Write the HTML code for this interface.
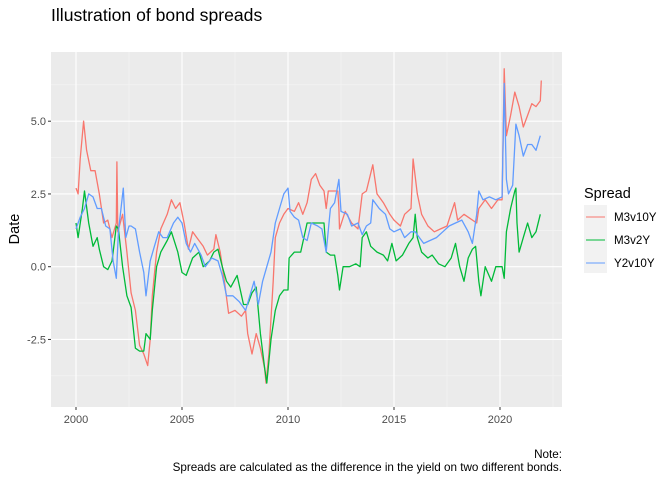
<!DOCTYPE html>
<html><head><meta charset="utf-8"><style>
body{margin:0;background:#fff;}
svg{display:block;font-family:"Liberation Sans",Arial,sans-serif;}
</style></head><body>
<svg width="672" height="480">
<text x="51" y="21" font-size="17.6" fill="#000">Illustration of bond spreads</text>
<rect x="51" y="52" width="511" height="355" fill="#ebebeb"/>
<g id="grid"></g>
<g id="series"></g>
<g id="axes"></g>
<text transform="translate(19,229) rotate(-90)" text-anchor="middle" font-size="14.5" fill="#000">Date</text>
<g>
<text x="584" y="198" font-size="14.5" fill="#000">Spread</text>
<rect x="584" y="205" width="23" height="68" fill="#f2f2f2"/>
<line x1="586" x2="605" y1="217" y2="217" stroke="#F8766D" stroke-width="1.1"/>
<line x1="586" x2="605" y1="240" y2="240" stroke="#00BA38" stroke-width="1.1"/>
<line x1="586" x2="605" y1="263" y2="263" stroke="#619CFF" stroke-width="1.1"/>
<text x="614" y="221" font-size="11.6" fill="#000">M3v10Y</text>
<text x="614" y="244" font-size="11.6" fill="#000">M3v2Y</text>
<text x="614" y="267" font-size="11.6" fill="#000">Y2v10Y</text>
</g>
<text x="562" y="458" text-anchor="end" font-size="11.7" fill="#000">Note:</text>
<text x="562" y="471" text-anchor="end" font-size="11.7" fill="#000">Spreads are calculated as the difference in the yield on two different bonds.</text>
</svg>
<script>
const xTicks=[2000,2005,2010,2015,2020];
const yTicks=[-2.5,0,2.5,5];
const yTickLabels=["-2.5","0.0","2.5","5.0"];
const m3v10Years=[2000,2000.1,2000.2,2000.36,2000.5,2000.7,2000.9,2001.1,2001.3,2001.5,2001.7,2001.9,2001.93,2001.97,2002.2,2002.4,2002.6,2002.8,2003,2003.2,2003.38,2003.5,2003.6,2003.8,2004,2004.3,2004.5,2004.7,2004.9,2005.1,2005.3,2005.5,2005.7,2006,2006.2,2006.5,2006.6,2006.8,2007,2007.2,2007.5,2007.8,2008,2008.1,2008.3,2008.5,2008.7,2008.9,2008.96,2009.1,2009.3,2009.4,2009.6,2009.8,2010,2010.3,2010.5,2010.7,2010.9,2011.1,2011.3,2011.5,2011.7,2011.8,2011.9,2012.35,2012.4,2012.43,2012.7,2013,2013.3,2013.5,2013.7,2014,2014.2,2014.5,2014.8,2015,2015.3,2015.5,2015.8,2015.9,2016.1,2016.3,2016.6,2016.9,2017.2,2017.5,2017.86,2018,2018.3,2018.5,2018.9,2019,2019.3,2019.6,2019.9,2020.1,2020.2,2020.3,2020.5,2020.7,2020.9,2021.1,2021.3,2021.5,2021.7,2021.9,2021.95];
const m3v10Values=[2.7,2.5,3.7,5.0,4.0,3.3,3.3,2.5,1.5,1.6,1.0,1.5,3.6,1.2,1.8,0.5,-0.9,-1.5,-2.7,-3.0,-3.4,-2.5,-1.0,0.5,1.3,1.8,2.3,2.0,2.2,1.5,0.6,1.2,1.0,0.7,0.4,0.6,1.1,0.5,-0.5,-1.6,-1.5,-1.7,-1.5,-2.3,-3.0,-2.3,-2.8,-3.5,-4.0,-3.0,-0.5,1.0,1.5,1.8,2.0,1.9,2.2,1.8,2.2,3.0,3.2,2.8,2.6,2.0,2.6,2.6,2.0,1.3,1.9,1.5,1.3,2.5,2.6,3.5,2.5,2.2,1.8,1.6,1.4,1.8,2.0,3.7,2.5,1.8,1.4,1.2,1.3,1.4,2.2,1.6,1.8,1.7,1.5,2.0,2.3,2.0,2.3,2.3,6.8,4.5,5.2,6.0,5.5,4.8,5.2,5.6,5.5,5.7,6.4];
const m3v2Years=[2000,2000.1,2000.3,2000.4,2000.6,2000.8,2001,2001.1,2001.3,2001.5,2001.7,2001.8,2001.9,2002,2002.2,2002.4,2002.6,2002.8,2003,2003.2,2003.3,2003.5,2003.6,2003.8,2004,2004.3,2004.5,2004.8,2005,2005.2,2005.5,2005.8,2006,2006.3,2006.5,2006.7,2006.9,2007.1,2007.3,2007.6,2007.9,2008.1,2008.3,2008.5,2008.7,2008.9,2009,2009.2,2009.4,2009.6,2009.8,2010,2010.05,2010.3,2010.6,2010.9,2011.3,2011.7,2011.8,2012,2012.2,2012.35,2012.43,2012.6,2012.9,2013.2,2013.4,2013.5,2013.7,2013.9,2014.2,2014.5,2014.7,2014.9,2015.1,2015.4,2015.7,2015.9,2016,2016.1,2016.3,2016.6,2016.8,2017.1,2017.4,2017.7,2017.9,2018.1,2018.3,2018.5,2018.7,2018.85,2019,2019.1,2019.3,2019.6,2019.8,2020.1,2020.2,2020.3,2020.5,2020.7,2020.75,2020.8,2020.9,2021.1,2021.3,2021.5,2021.7,2021.9];
const m3v2Values=[1.5,1.0,2.0,2.6,1.5,0.7,1.0,0.6,0.0,-0.1,0.2,0.8,1.4,1.3,0.0,-1.0,-1.4,-2.8,-2.9,-2.9,-2.3,-2.5,-1.5,0.0,0.5,0.9,1.2,0.5,-0.2,-0.3,0.3,0.5,0.0,0.2,0.5,0.6,0.0,-0.5,-0.7,-0.3,-1.3,-1.3,-0.9,-0.7,-2.3,-3.5,-4.0,-2.5,-1.5,-1.0,-0.8,-0.8,0.3,0.5,0.5,1.5,1.5,1.5,0.5,0.4,0.4,-0.3,-0.8,0.0,0.0,0.1,0.0,1.0,1.2,0.7,0.5,0.4,0.2,0.8,0.2,0.4,0.8,1.0,1.8,1.0,0.5,0.3,0.4,0.1,0.0,0.3,0.8,0.0,-0.5,0.3,0.6,0.7,-0.5,-1.0,0.0,-0.5,0.0,0.0,-0.4,1.2,2.0,2.6,2.7,1.5,0.5,1.0,1.5,1.0,1.2,1.8];
const y2v10Years=[2000,2000.2,2000.4,2000.6,2000.8,2001,2001.2,2001.4,2001.6,2001.75,2001.9,2002,2002.23,2002.35,2002.5,2002.6,2002.8,2003,2003.2,2003.3,2003.5,2003.7,2003.9,2004.1,2004.3,2004.6,2004.8,2005,2005.2,2005.4,2005.6,2005.9,2006.1,2006.4,2006.7,2006.9,2007.1,2007.4,2007.7,2008,2008.2,2008.4,2008.6,2008.8,2009,2009.2,2009.4,2009.6,2009.8,2010,2010.1,2010.3,2010.5,2010.7,2010.9,2011.1,2011.4,2011.6,2011.8,2012,2012.2,2012.4,2012.5,2012.8,2013,2013.3,2013.5,2013.7,2013.9,2014,2014.3,2014.6,2014.8,2015,2015.3,2015.5,2015.8,2016,2016.2,2016.4,2016.7,2017,2017.3,2017.6,2017.9,2018.2,2018.5,2018.7,2018.9,2019,2019.2,2019.5,2019.8,2020.1,2020.2,2020.3,2020.4,2020.6,2020.75,2020.9,2021.1,2021.3,2021.5,2021.7,2021.9];
const y2v10Values=[1.3,1.7,2.0,2.5,2.4,2.0,2.0,1.4,1.3,0.2,-0.4,1.2,2.7,1.0,1.4,1.4,1.3,0.5,-0.2,-1.0,0.2,0.7,1.2,1.0,1.0,1.5,1.7,1.5,0.8,0.5,0.8,0.4,0.0,0.3,0.2,-0.3,-1.0,-1.0,-1.2,-1.5,-1.0,-0.5,-1.3,-0.5,0.0,0.5,1.5,2.0,2.5,2.7,1.9,1.7,1.6,1.0,0.9,1.5,1.4,1.3,0.5,2.0,2.2,3.0,1.9,1.8,1.4,1.5,1.1,1.4,1.5,2.3,2.0,1.8,1.3,1.2,1.3,1.0,1.2,1.2,1.0,0.8,0.9,1.0,1.2,1.4,1.5,1.6,1.2,0.8,1.8,2.6,2.3,2.4,2.3,2.4,6.3,3.0,2.5,2.8,4.9,4.5,3.8,4.2,4.2,4.0,4.5];

const NS="http://www.w3.org/2000/svg";
const X0=51,X1=562,Y0=52,Y1=407;
function xS(yr){return 76+(yr-2000)*21.2;}
function yS(v){return 266.7-v*29.1;}
function mk(tag,attrs,parent){const e=document.createElementNS(NS,tag);for(const k in attrs)e.setAttribute(k,attrs[k]);parent.appendChild(e);return e;}
const grid=document.getElementById('grid'),axes=document.getElementById('axes'),series=document.getElementById('series');
const minorY=[-3.75,-1.25,1.25,3.75,6.25];
minorY.forEach(v=>{const l=mk('line',{x1:X0,x2:X1,y1:yS(v),y2:yS(v),stroke:'#f5f5f5','stroke-width':0.55},grid);

});
const minorX=[2002.5,2007.5,2012.5,2017.5,2022.5];
minorX.forEach(v=>{const l=mk('line',{x1:xS(v),x2:xS(v),y1:Y0,y2:Y1,stroke:'#f5f5f5','stroke-width':0.55},grid);

});
yTicks.forEach((v,i)=>{const y=yS(v);
const l=mk('line',{x1:X0,x2:X1,y1:y,y2:y,stroke:'#fff','stroke-width':1.1},grid);


const t=mk('line',{x1:X0-3,x2:X0,y1:y,y2:y,stroke:'#333','stroke-width':1},axes);


const tx=mk('text',{x:X0-5,y:y+4,'text-anchor':'end','font-size':'11',fill:'#4d4d4d'},axes);tx.textContent=yTickLabels[i];

});
xTicks.forEach(v=>{const x=xS(v);
const l=mk('line',{x1:x,x2:x,y1:Y0,y2:Y1,stroke:'#fff','stroke-width':1.1},grid);


const t=mk('line',{x1:x,x2:x,y1:Y1,y2:Y1+3,stroke:'#333','stroke-width':1},axes);


const tx=mk('text',{x:x,y:Y1+16,'text-anchor':'middle','font-size':'11',fill:'#4d4d4d'},axes);tx.textContent=String(v);

});
function drawLine(xs,vs,color,name){
const d=xs.map((yr,i)=>(i?'L':'M')+xS(yr).toFixed(1)+','+yS(vs[i]).toFixed(1)).join('');
const p=mk('path',{d:d,fill:'none',stroke:color,'stroke-width':1.3,'stroke-linejoin':'round'},series);

}
drawLine(m3v10Years,m3v10Values,'#F8766D','line-m3v10y');
drawLine(m3v2Years,m3v2Values,'#00BA38','line-m3v2y');
drawLine(y2v10Years,y2v10Values,'#619CFF','line-y2v10y');
</script>
</body></html>
